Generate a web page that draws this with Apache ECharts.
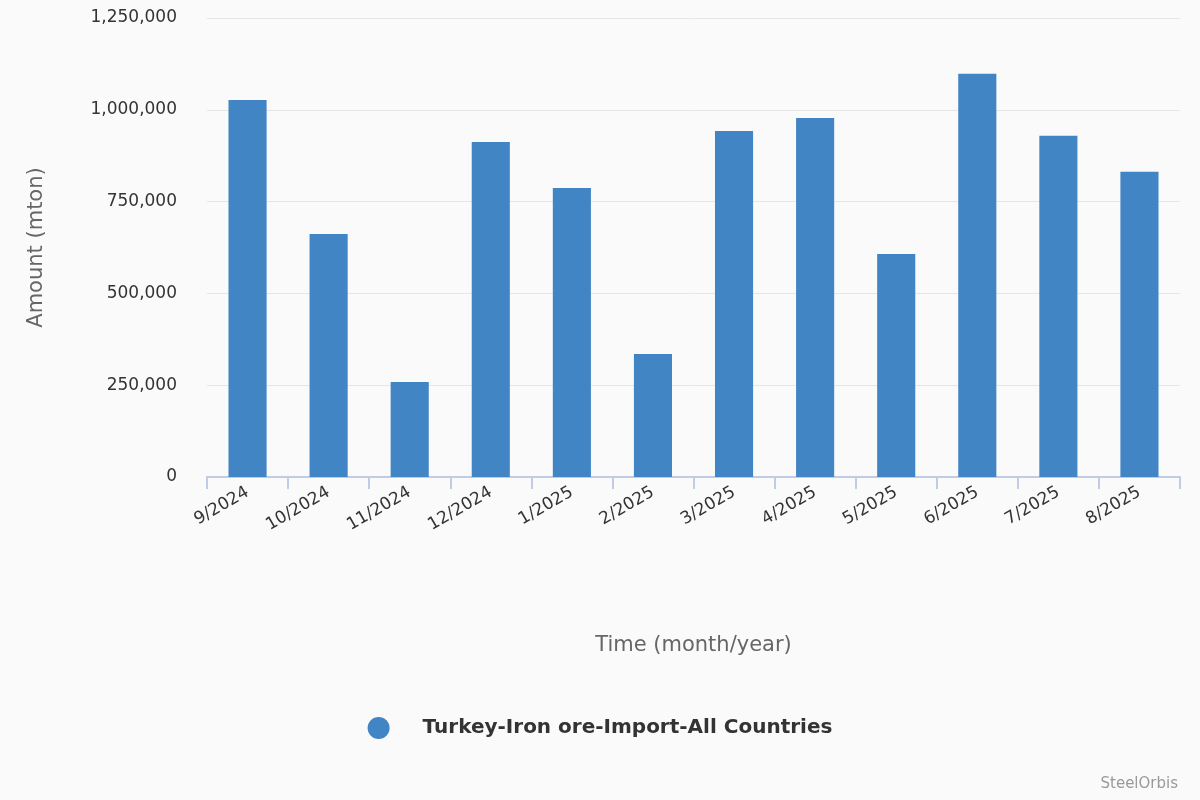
<!DOCTYPE html>
<html><head><meta charset="utf-8">
<script src="https://cdn.jsdelivr.net/npm/echarts@6/dist/echarts.min.js"></script>
<style>html,body{margin:0;background:#fafafa}#c{width:1200px;height:800px}</style>
</head><body><div id="c"></div>
<script>
// === data ===
const months=['9/2024','10/2024','11/2024','12/2024','1/2025','2/2025','3/2025','4/2025','5/2025','6/2025','7/2025','8/2025'];
const amounts=[1027000,662000,259000,912000,787000,335000,942000,978000,607000,1098000,929000,831000];
const yTicks={min:0,max:1250000,interval:250000};

const chart=echarts.init(document.getElementById('c'));
chart.setOption({
  backgroundColor:'#fafafa',
  textStyle:{fontFamily:'DejaVu Sans'},
  grid:{left:207,right:20,top:18,bottom:323},
  xAxis:{type:'category',data:months,
    name:'Time (month/year)',nameLocation:'middle',nameGap:158,
    nameTextStyle:{fontSize:21,color:'#666'},
    axisLine:{show:true,lineStyle:{color:'#c0cce3',width:2}},
    axisTick:{show:true,lineStyle:{color:'#c0cce3',width:2},length:12},
    axisLabel:{rotate:30,fontSize:17,color:'#333',margin:14}},
  yAxis:{type:'value',min:yTicks.min,max:yTicks.max,interval:yTicks.interval,
    name:'Amount (mton)',nameLocation:'middle',nameGap:160,
    nameTextStyle:{fontSize:21,color:'#666'},
    splitLine:{lineStyle:{color:'#e6e6e6'}},
    axisLabel:{fontSize:17,color:'#333',margin:30,formatter:v=>v.toLocaleString('en-US')}},
  legend:{bottom:56,left:'center',icon:'circle',itemWidth:22,itemHeight:22,itemGap:20,
    textStyle:{fontSize:20,fontWeight:'bold',color:'#333',padding:[0,0,0,28]}},
  graphic:[{type:'text',right:22,bottom:8,style:{text:'SteelOrbis',fontSize:15,fill:'#999',fontFamily:'DejaVu Sans'}}],
  series:[{name:'Turkey-Iron ore-Import-All Countries',type:'bar',data:amounts,
    barWidth:'47%',itemStyle:{color:'#4185c4'}}]
});
</script></body></html>
